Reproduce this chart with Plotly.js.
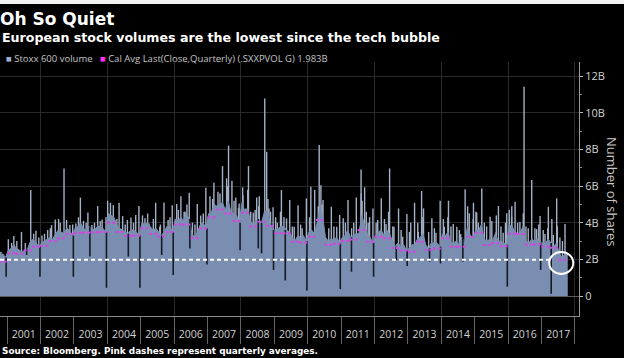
<!DOCTYPE html>
<html><head><meta charset="utf-8">
<script src="https://cdn.plot.ly/plotly-3.0.1.min.js"></script>
<style>html,body{margin:0;padding:0;background:#000;}#chart{width:624px;height:358px;}</style>
</head><body><div id="chart"></div>
<script>
// Stoxx 600 daily volume (billions of shares)
// Typical monthly level of the volume body, Oct 2000 .. Oct 2017
const monthStartYear = 2000, monthStartMonth = 10;
const monthlyVolume = [
  2.2, 2.3, 2.1,
  2.5, 2.6, 2.8, 2.6, 2.5, 2.4, 2.5, 2.6, 3.0, 3.1, 2.9, 2.7,
  2.9, 3.0, 3.1, 3.2, 3.1, 3.4, 3.6, 3.5, 3.4, 3.7, 3.6, 3.3,
  3.7, 3.8, 4.0, 3.7, 3.6, 3.8, 3.7, 3.6, 3.8, 3.8, 3.7, 3.5,
  4.5, 4.4, 4.3, 3.9, 3.7, 3.6, 3.5, 3.4, 3.6, 3.6, 3.5, 3.3,
  4.0, 3.9, 4.0, 3.8, 3.6, 3.7, 3.5, 3.3, 3.5, 3.8, 3.8, 3.5,
  4.2, 4.1, 4.3, 4.1, 4.5, 4.2, 3.4, 3.2, 3.5, 3.9, 4.0, 3.7,
  4.5, 4.6, 5.0, 4.9, 5.0, 5.1, 4.7, 5.2, 4.6, 4.5, 4.4, 4.0,
  5.1, 4.6, 4.8, 4.1, 3.9, 4.1, 4.2, 4.0, 4.6, 4.6, 4.0, 3.6,
  3.6, 3.7, 3.8, 3.8, 3.6, 3.5, 3.2, 3.0, 3.3, 3.2, 3.3, 3.0,
  3.5, 3.6, 3.4, 4.0, 4.8, 4.3, 3.2, 3.0, 3.1, 3.1, 3.2, 2.9,
  3.2, 3.3, 3.6, 3.2, 3.3, 3.4, 3.4, 4.4, 3.9, 3.4, 3.2, 2.9,
  3.3, 3.5, 3.6, 3.3, 3.6, 3.4, 3.0, 2.7, 2.9, 2.7, 2.8, 2.5,
  2.6, 2.8, 2.8, 3.1, 3.2, 3.4, 2.8, 2.6, 2.9, 2.9, 2.9, 2.7,
  3.4, 3.3, 3.5, 2.9, 2.9, 3.0, 2.8, 3.2, 2.9, 3.8, 3.3, 3.2,
  3.6, 3.6, 3.9, 3.1, 3.0, 3.1, 3.0, 3.4, 3.0, 3.0, 2.9, 2.8,
  3.9, 3.8, 3.5, 3.4, 3.5, 3.8, 3.0, 2.9, 3.1, 3.0, 3.1, 2.9,
  2.9, 2.9, 3.1, 2.9, 2.7, 2.9, 2.3, 2.1, 2.3, 2.2
];
// Calendar-quarter averages, 2000 Q4 .. 2017 Q3
const quarterStartYear = 2000, quarterStartMonth = 10;
const quarterlyAvg = [
  1.87,
  2.34, 2.30, 2.50, 2.69,
  2.75, 3.00, 3.15, 3.38,
  3.45, 3.45, 3.48, 3.50,
  4.00, 3.50, 3.28, 3.30,
  3.70, 3.40, 3.25, 3.50,
  3.90, 3.90, 3.16, 3.68,
  4.30, 4.72, 4.50, 4.10,
  4.55, 3.80, 4.05, 3.82,
  3.43, 3.43, 2.96, 2.92,
  3.24, 4.15, 2.80, 2.85,
  3.00, 3.08, 3.60, 2.96,
  3.24, 3.15, 2.62, 2.48,
  2.42, 2.96, 2.51, 2.60,
  3.15, 2.69, 2.69, 3.24,
  3.45, 2.78, 2.89, 2.72,
  3.40, 3.38, 2.80, 2.82,
  2.70, 2.64, 1.983
];
// High-volume days
const spikeDates = [
  '2000-10-26','2001-01-15','2001-03-16','2001-06-08','2001-09-17','2001-11-13','2002-03-21','2002-05-03','2002-06-12','2002-09-16',
  '2002-10-14','2002-11-19','2003-01-24','2003-03-14','2003-06-04','2003-07-18','2003-09-19','2003-11-07','2004-01-06','2004-02-06',
  '2004-03-08','2004-05-10','2004-06-18','2004-08-09','2004-09-17','2004-11-08','2004-12-13','2005-02-17','2005-04-01','2005-06-14',
  '2005-07-29','2005-09-13','2005-10-28','2005-12-12','2006-01-30','2006-03-17','2006-05-02','2006-06-16','2006-09-12','2006-12-15',
  '2007-01-29','2007-03-13','2007-04-26','2007-06-15','2007-07-30','2007-08-20','2007-09-26','2007-11-08','2007-12-14','2008-01-21',
  '2008-02-26','2008-03-25','2008-05-16','2008-06-23','2008-07-21','2008-09-19','2008-10-10','2008-11-04','2008-12-19','2009-02-03',
  '2009-03-20','2009-05-15','2009-06-19','2009-08-07','2009-09-18','2009-11-02','2009-12-18','2010-02-05','2010-03-19','2010-05-07',
  '2010-05-26','2010-06-18','2010-09-17','2010-11-15','2010-12-17','2011-01-25','2011-03-18','2011-04-27','2011-06-17','2011-08-08',
  '2011-09-16','2011-10-25','2011-12-16','2012-02-06','2012-03-16','2012-05-07','2012-06-15','2012-08-02','2012-09-21','2012-11-05',
  '2012-12-21','2013-02-01','2013-03-15','2013-04-25','2013-05-31','2013-06-21','2013-09-20','2013-11-04','2013-12-20','2014-02-03',
  '2014-03-21','2014-05-12','2014-06-20','2014-08-01','2014-09-19','2014-11-03','2014-12-19','2015-01-23','2015-02-10','2015-03-20',
  '2015-05-12','2015-06-19','2015-08-24','2015-09-18','2015-11-09','2015-12-18','2016-02-09','2016-03-18','2016-05-10','2016-06-24',
  '2016-08-09','2016-09-16','2016-11-09','2016-12-16','2017-02-08','2017-03-17','2017-05-10','2017-06-16','2017-09-15',
  '2001-02-20','2001-04-18','2001-07-20','2001-10-19','2001-12-14','2002-01-18','2002-02-15','2002-04-19','2002-07-19','2002-08-06',
  '2002-12-20','2003-02-21','2003-04-17','2003-05-16','2003-08-15','2003-10-17','2003-12-19','2004-04-16','2004-07-16','2004-10-15',
  '2005-01-21','2005-03-18','2005-05-20','2005-08-05','2005-11-18','2006-02-17','2006-04-21','2006-05-22','2006-07-21','2006-08-18',
  '2006-10-20','2006-11-17','2007-02-27','2007-05-18','2007-08-10','2007-10-19','2007-12-07','2008-01-24','2008-03-17','2008-04-18',
  '2008-06-06','2008-07-15','2008-10-24','2008-11-21','2009-01-16','2009-03-10','2009-04-17','2009-07-17','2009-10-16','2010-01-22',
  '2010-04-27','2010-06-07','2010-08-20','2010-10-15','2011-02-18','2011-05-20','2011-08-10','2011-08-19','2011-10-04','2011-11-09',
  '2012-01-20','2012-04-20','2012-06-04','2012-07-20','2012-10-19','2013-01-18','2013-04-19','2013-06-14','2013-08-16','2013-10-18',
  '2014-01-24','2014-03-14','2014-04-17','2014-07-18','2014-10-16','2014-12-16','2015-01-15','2015-04-17','2015-07-08','2015-08-26',
  '2015-10-16','2015-12-04','2016-01-15','2016-02-11','2016-04-15','2016-06-16','2016-07-15','2016-10-21','2016-12-02','2017-01-20',
  '2017-03-10','2017-04-24','2017-06-23','2017-07-21','2017-08-18'
];
const spikeValues = [
  2.42, 3.10, 3.27, 3.50, 5.78, 3.56, 3.60, 3.87, 4.18, 6.96,
  4.15, 3.87, 3.96, 5.37, 4.56, 3.87, 4.91, 4.18, 5.20, 5.09,
  4.96, 5.09, 4.36, 4.15, 4.29, 4.42, 4.91, 4.24, 3.96, 5.09,
  3.78, 5.11, 4.15, 4.96, 5.02, 5.45, 4.60, 5.64, 5.02, 5.91,
  5.45, 6.18, 5.69, 7.09, 6.42, 8.20, 6.29, 5.38, 5.05, 5.93,
  4.78, 7.09, 4.55, 5.38, 5.45, 10.78, 7.87, 4.78, 4.84, 4.00,
  5.78, 4.24, 5.24, 3.78, 4.96, 3.70, 5.33, 5.96, 5.78, 8.24,
  6.05, 5.24, 4.87, 3.78, 4.42, 4.24, 5.24, 3.70, 5.38, 6.91,
  5.93, 4.00, 4.78, 4.15, 5.33, 3.93, 6.96, 3.78, 4.78, 3.24,
  4.47, 4.00, 5.09, 3.50, 5.73, 4.78, 4.24, 3.45, 5.20, 3.78,
  5.20, 3.93, 3.78, 3.38, 5.82, 4.51, 5.09, 4.55, 4.00, 5.87,
  3.80, 4.33, 3.50, 4.91, 3.45, 4.51, 4.33, 5.15, 4.04, 11.42,
  3.70, 6.33, 3.65, 4.36, 3.38, 4.87, 3.33, 5.33, 3.93,
  2.9, 3.0, 2.9, 3.4, 3.2, 3.3, 3.4, 3.7, 4.2, 4.0,
  3.9, 4.3, 4.1, 4.0, 4.0, 4.1, 4.3, 4.2, 3.9, 4.0,
  4.4, 4.5, 4.2, 3.9, 4.3, 4.7, 4.6, 5.0, 4.0, 3.9,
  4.4, 4.5, 5.3, 5.6, 6.0, 5.2, 4.8, 5.5, 5.8, 4.6,
  4.7, 4.9, 5.3, 4.6, 4.3, 4.6, 4.3, 3.8, 3.9, 4.3,
  4.9, 5.0, 3.7, 3.8, 4.0, 4.0, 5.6, 5.2, 4.6, 4.3,
  4.0, 4.2, 4.6, 3.8, 3.6, 3.5, 4.0, 4.3, 3.5, 3.7,
  4.2, 4.3, 3.8, 3.6, 4.9, 4.2, 4.6, 4.0, 4.1, 4.4,
  3.8, 4.0, 4.7, 4.9, 4.0, 4.5, 3.8, 3.7, 3.9, 3.6,
  3.7, 4.2, 3.8, 3.2, 3.0
];
// Low-volume (holiday) days
const dipDates = [
  '2000-12-22','2001-08-03','2001-12-27','2002-12-27','2003-06-26','2003-12-24','2004-08-19','2004-12-24','2005-08-19','2005-12-23',
  '2006-06-23','2006-12-27','2007-12-24','2008-07-10','2008-08-15','2008-12-24','2009-05-01','2009-12-24','2010-12-24','2011-04-25',
  '2011-12-23','2012-08-27','2012-12-24','2013-08-26','2013-12-24','2014-08-25','2015-12-24','2016-12-23','2017-04-17'
];
const dipValues = [
  1.05, 2.24, 1.05, 1.05, 2.15, 0.45, 2.15, 0.45, 2.24, 1.15,
  2.60, 1.72, 2.50, 2.60, 2.33, 1.42, 0.85, 0.30, 0.38, 1.33,
  1.05, 1.96, 1.64, 1.87, 1.78, 1.87, 0.51, 1.42, 0.12
];
const yTickVals = [0, 2, 4, 6, 8, 10, 12];
const yTickText = ['0', '2B', '4B', '6B', '8B', '10B', '12B'];
const yMinorVals = [1, 3, 5, 7, 9, 11];

const R0 = '2000-10-16', R1 = '2018-02-15';
function iso(d){ return d.toISOString().slice(0,10); }
const monthDates = monthlyVolume.map((_, i) => iso(new Date(Date.UTC(monthStartYear, monthStartMonth - 1 + i, 15))));
function monthValue(dateStr){
  const y = +dateStr.slice(0,4), m = +dateStr.slice(5,7);
  const idx = (y - monthStartYear) * 12 + (m - monthStartMonth);
  return monthlyVolume[Math.max(0, Math.min(monthlyVolume.length - 1, idx))];
}
const spX = [], spY = [];
spikeDates.forEach((d, i) => { spX.push(d, d, null); spY.push(0, spikeValues[i], null); });
const dpX = [], dpY = [];
dipDates.forEach((d, i) => { dpX.push(d, d, null); dpY.push(monthValue(d), dipValues[i], null); });
const qX = [], qY = [];
quarterlyAvg.forEach((v, i) => {
  const s = new Date(Date.UTC(quarterStartYear, quarterStartMonth - 1 + 3 * i, 1));
  const e = new Date(Date.UTC(quarterStartYear, quarterStartMonth - 1 + 3 * (i + 1), 1));
  qX.push(iso(s), iso(e), null); qY.push(v, v, null);
});
const lastAvg = quarterlyAvg[quarterlyAvg.length - 1];
const bodyX = [R0].concat(monthDates), bodyY = [monthlyVolume[0]].concat(monthlyVolume);

const traces = [
  {x: spX, y: spY, mode: 'lines', line: {color: '#a3b1c8', width: 1.4}, hoverinfo: 'skip', showlegend: false},
  {x: bodyX, y: bodyY, mode: 'lines', fill: 'tozeroy', fillcolor: '#7a8eb1', line: {color: '#7a8eb1', width: 1}, name: 'Stoxx 600 volume', showlegend: false},
  {x: dpX, y: dpY, mode: 'lines', line: {color: '#151a24', width: 1.6}, hoverinfo: 'skip', showlegend: false},
  {x: qX, y: qY, mode: 'lines', line: {color: '#d246e2', width: 2, dash: '3px,2px'}, name: 'Quarterly avg', showlegend: false},
  {x: [R0, R1], y: [null, null], xaxis: 'x2', mode: 'lines', hoverinfo: 'skip', showlegend: false},
  {x: [R0, R1], y: [null, null], xaxis: 'x3', mode: 'lines', hoverinfo: 'skip', showlegend: false}
];

const tickFont = {family: 'Open Sans', size: 10.5, color: '#d2d2d2'};
const layout = {
  width: 624, height: 358,
  margin: {l: 0, r: 45, t: 62, b: 42, pad: 0},
  paper_bgcolor: '#000', plot_bgcolor: '#000',
  title: {text: 'Oh So Quiet', x: 0, xref: 'paper', xanchor: 'left', y: 1 - 19/358, yanchor: 'middle',
          font: {family: 'DejaVu Sans', size: 17, weight: 'bold', color: '#ffffff'}},
  xaxis: {type: 'date', range: [R0, R1], showgrid: true, gridcolor: '#2a2a2a', gridwidth: 1,
          dtick: 'M24', tick0: '2002-01-01', ticks: '', showticklabels: false,
          showline: true, linecolor: '#8c8c8c', linewidth: 1, zeroline: false, fixedrange: true},
  xaxis2: {type: 'date', range: [R0, R1], overlaying: 'x', anchor: 'y', side: 'bottom',
           dtick: 'M12', tick0: '2001-01-01', ticks: 'outside', ticklen: 27, tickcolor: '#666', tickwidth: 1,
           showticklabels: false, showgrid: false, showline: false, zeroline: false},
  xaxis3: {type: 'date', range: [R0, R1], overlaying: 'x', anchor: 'y', side: 'bottom',
           dtick: 'M12', tick0: '2001-01-01', ticklabelmode: 'period', tickformat: '%Y',
           ticks: 'outside', ticklen: 8, tickcolor: 'rgba(0,0,0,0)', tickfont: tickFont,
           showgrid: false, showline: false, zeroline: false},
  yaxis: {side: 'right', range: [-1.09, 12.77], tickmode: 'array', tickvals: yTickVals, ticktext: yTickText,
          ticks: 'outside', ticklen: 3, tickcolor: '#bbbbbb', tickfont: {family: 'Open Sans', size: 11, color: '#d2d2d2'},
          showline: true, linecolor: '#9a9a9a', linewidth: 1,
          showgrid: true, gridcolor: '#2a2a2a', zeroline: true, zerolinecolor: '#5c5c5c', zerolinewidth: 1,
          minor: {tickmode: 'array', tickvals: yMinorVals, ticks: 'outside', ticklen: 2, tickcolor: '#888', showgrid: false},
          fixedrange: true},
  shapes: [
    {type: 'line', xref: 'x', yref: 'y', x0: R0, x1: '2017-05-05', y0: lastAvg, y1: lastAvg,
     line: {color: '#ffffff', width: 2, dash: '4px,3px'}},
    {type: 'circle', xref: 'x', yref: 'y', xsizemode: 'pixel', ysizemode: 'pixel',
     xanchor: '2017-08-05', yanchor: 1.8, x0: -12, x1: 12, y0: -11, y1: 11,
     line: {color: '#ffffff', width: 2}},
    {type: 'rect', xref: 'paper', yref: 'paper', x0: -0.01, x1: 1.1, y0: 1 + 58/254, y1: 1 + 63/254,
     fillcolor: '#f2f2f2', line: {width: 0}}
  ],
  annotations: [
    {text: 'European stock volumes are the lowest since the tech bubble', xref: 'paper', yref: 'paper',
     x: 0, y: 1, xanchor: 'left', yanchor: 'middle', yshift: 25, showarrow: false,
     font: {family: 'DejaVu Sans', size: 12.6, weight: 'bold', color: '#ffffff'}},
    {text: '<span style="color:#9fb0d4">■</span> Stoxx 600 volume   <span style="color:#ff2df5">■</span> Cal Avg Last(Close,Quarterly) (.SXXPVOL G) ' + lastAvg.toFixed(3) + 'B',
     xref: 'paper', yref: 'paper', x: 0, y: 1, xanchor: 'left', yanchor: 'middle', yshift: 4, xshift: 4, showarrow: false,
     font: {family: 'Open Sans', size: 9.5, color: '#c4c4c4'}},
    {text: 'Number of shares', xref: 'paper', yref: 'paper', x: 1, y: (316 - 192) / 254, xshift: 33,
     xanchor: 'center', yanchor: 'middle', textangle: 90, showarrow: false,
     font: {family: 'Open Sans', size: 13, color: '#c8c8c8'}},
    {text: 'Source: Bloomberg. Pink dashes represent quarterly averages.', xref: 'paper', yref: 'paper',
     x: 0, y: 0, xanchor: 'left', yanchor: 'middle', yshift: -35, showarrow: false,
     font: {family: 'DejaVu Sans', size: 8.9, weight: 'bold', color: '#ffffff'}}
  ],
  showlegend: false
};
Plotly.newPlot('chart', traces, layout, {displayModeBar: false, staticPlot: true});
</script>
</body></html>
